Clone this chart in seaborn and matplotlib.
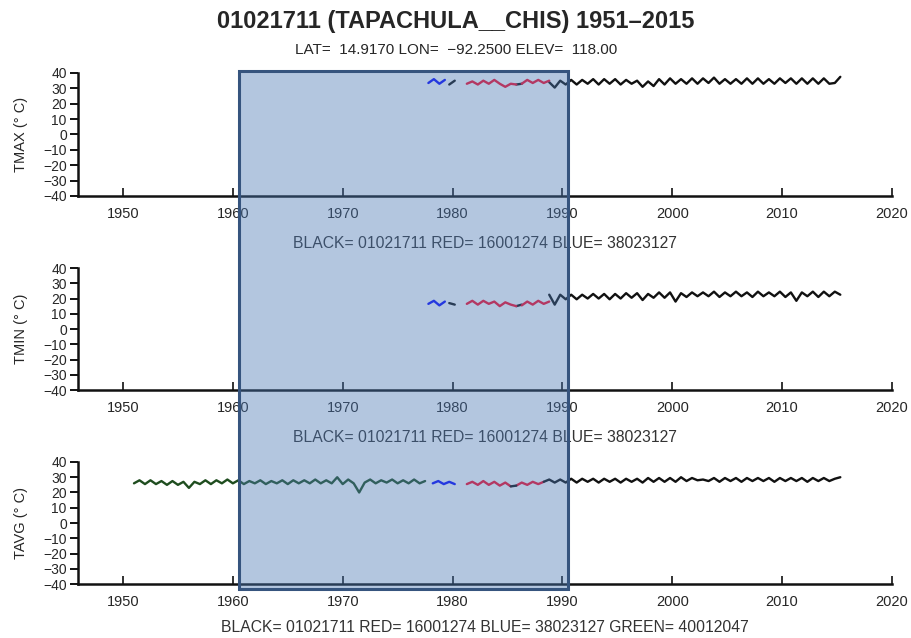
# GHCN-style station plot: TAPACHULA (CHIS) monthly temperatures
import pandas as pd
import matplotlib.pyplot as plt
import matplotlib.transforms as mtransforms
from matplotlib.patches import Rectangle
import seaborn as sns

sns.set_theme(style='ticks')
plt.rcParams['font.family'] = ['Liberation Sans', 'DejaVu Sans']

# ---- data (semi-annual peaks / troughs) ----
STEP = 0.5
ELEMENTS = ['TMAX', 'TMIN', 'TAVG']
SOURCE_COLORS = {'black': '#111111', 'red': '#ff0a28', 'blue': '#0a0aff', 'green': '#1f4d1f'}
CAPTION_3 = 'BLACK= 01021711 RED= 16001274 BLUE= 38023127'
CAPTION_4 = 'BLACK= 01021711 RED= 16001274 BLUE= 38023127 GREEN= 40012047'
SHADE_START, SHADE_END = 1960.6, 1990.5
X_TICKS = [1950, 1960, 1970, 1980, 1990, 2000, 2010, 2020]
Y_TICKS = [-40, -30, -20, -10, 0, 10, 20, 30, 40]

# TMAX
tmax_blue = [33.5, 36.0, 33.0, 35.5]                       # from 1977.8
tmax_dark1 = [32.5, 35.0]                                   # from 1979.7
tmax_red1 = [33.0, 34.5, 32.5, 35.0, 33.0, 35.5, 33.0, 31.0, 33.0, 32.5]  # from 1981.3
tmax_dark2 = [32.5, 33.0]                                   # from 1985.8
tmax_red2 = [33.0, 35.5, 33.5, 35.5, 33.5, 35.0]            # from 1986.3
tmax_black = [34.0, 30.5, 35.0, 32.5, 35.5, 32.5, 35.5, 33.0, 36.0, 32.5,
              36.0, 33.0, 36.0, 32.5, 35.5, 33.0, 35.0, 31.0, 34.5, 31.5,
              36.0, 32.5, 36.5, 33.0, 36.0, 33.0, 36.5, 33.0, 36.5, 33.5,
              37.0, 33.0, 36.0, 33.0, 36.0, 33.0, 36.5, 33.0, 36.5, 33.0,
              36.0, 33.0, 36.5, 33.5, 36.5, 33.0, 36.5, 33.0, 36.5, 33.0,
              36.5, 33.0, 33.5, 37.5]                        # from 1988.8

# TMIN
tmin_blue = [16.5, 18.5, 15.5, 18.0]
tmin_dark1 = [17.0, 16.0]
tmin_red1 = [16.5, 18.5, 16.0, 18.5, 16.5, 18.0, 15.0, 17.5, 16.0, 15.0]
tmin_dark2 = [15.0, 16.0]
tmin_red2 = [15.5, 18.0, 16.0, 18.5, 16.5, 18.0]
tmin_black = [22.5, 16.0, 22.5, 19.5, 22.5, 19.5, 22.5, 20.0, 23.0, 20.0,
              23.0, 19.5, 23.0, 20.0, 23.5, 20.5, 23.5, 19.0, 23.0, 20.5,
              24.0, 20.5, 24.0, 18.0, 23.5, 21.0, 24.0, 21.5, 24.0, 21.5,
              24.5, 21.0, 24.0, 21.5, 24.5, 21.5, 24.0, 21.0, 24.5, 21.5,
              24.0, 21.5, 24.5, 21.0, 24.0, 18.5, 24.0, 21.5, 24.5, 21.0,
              24.5, 21.5, 24.5, 22.5]

# TAVG
tavg_green = [26.0, 28.0, 25.5, 28.0, 25.5, 27.5, 25.0, 27.5, 25.0, 27.0,
              23.0, 27.0, 25.5, 28.0, 25.5, 28.0, 26.0, 28.5, 26.0, 28.0,
              25.5, 27.5, 26.0, 28.0, 25.5, 27.5, 26.0, 28.0, 25.5, 28.0,
              26.0, 28.0, 26.0, 28.5, 26.0, 28.0, 26.0, 30.0, 25.5, 28.5,
              26.0, 20.0, 26.5, 28.5, 26.0, 28.0, 26.5, 28.5, 26.0, 28.0,
              26.0, 28.5, 26.0, 27.5]                        # from 1951.0
tavg_blue = [26.0, 27.5, 25.5, 27.0, 25.5]                   # from 1978.2
tavg_red1 = [25.5, 27.0, 25.0, 27.5, 25.0, 27.0, 24.5, 26.5, 24.0]  # from 1981.3
tavg_dark = [24.0, 24.5]                                     # from 1985.3
tavg_red2 = [24.5, 26.5, 25.0, 27.0, 25.5, 27.0]             # from 1985.8
tavg_black = [27.0, 28.5, 26.5, 28.5, 26.5, 29.0, 26.5, 29.0, 27.0, 29.0,
              26.5, 29.0, 27.0, 29.0, 26.5, 29.0, 27.0, 29.0, 26.5, 29.5,
              27.0, 29.5, 27.0, 29.5, 27.0, 30.0, 27.5, 29.5, 28.0, 28.5,
              27.5, 29.5, 27.0, 29.5, 27.5, 29.5, 27.0, 29.5, 27.5, 29.5,
              27.5, 29.5, 27.0, 29.5, 27.5, 29.5, 27.5, 29.5, 27.0, 29.5,
              27.5, 29.5, 27.5, 29.0, 30.0]                  # from 1988.3

# (element, source, start year, values)
segments = [
    ('TMAX', 'blue', 1977.8, tmax_blue), ('TMAX', 'black', 1979.7, tmax_dark1),
    ('TMAX', 'red', 1981.3, tmax_red1), ('TMAX', 'black', 1985.8, tmax_dark2),
    ('TMAX', 'red', 1986.3, tmax_red2), ('TMAX', 'black', 1988.8, tmax_black),
    ('TMIN', 'blue', 1977.8, tmin_blue), ('TMIN', 'black', 1979.7, tmin_dark1),
    ('TMIN', 'red', 1981.3, tmin_red1), ('TMIN', 'black', 1985.8, tmin_dark2),
    ('TMIN', 'red', 1986.3, tmin_red2), ('TMIN', 'black', 1988.8, tmin_black),
    ('TAVG', 'green', 1951.0, tavg_green), ('TAVG', 'blue', 1978.2, tavg_blue),
    ('TAVG', 'red', 1981.3, tavg_red1), ('TAVG', 'black', 1985.3, tavg_dark),
    ('TAVG', 'red', 1985.8, tavg_red2), ('TAVG', 'black', 1988.3, tavg_black),
]

rows = []
for seg_id, (elem, src, start, vals) in enumerate(segments):
    for i, v in enumerate(vals):
        rows.append({'element': elem, 'source': src, 'segment': seg_id,
                     'year': start + STEP * i, 'value': v})
df = pd.DataFrame(rows)

# ---- figure ----
fig = plt.figure(figsize=(9.12, 6.38), dpi=100)
left, width = 0.0855, 0.8925
panel_boxes = [(0.6928, 0.1928), (0.3887, 0.1912), (0.0846, 0.1913)]
caption_y = [0.619, 0.315, 0.0157]
captions = [CAPTION_3, CAPTION_3, CAPTION_4]

axes = []
for elem, (bottom, height), cy, cap in zip(ELEMENTS, panel_boxes, caption_y, captions):
    ax = fig.add_axes([left, bottom, width, height])
    sub = df[df['element'] == elem]
    sns.lineplot(data=sub, x='year', y='value', hue='source', units='segment',
                 estimator=None, palette=SOURCE_COLORS, legend=False,
                 linewidth=1.7, ax=ax)
    ax.set_xlim(1945.9, 2020)
    ax.set_ylim(-40, 40)
    ax.set_xticks(X_TICKS)
    ax.set_yticks(Y_TICKS)
    ax.set_xlabel('')
    ax.set_ylabel(f'{elem} (° C)', fontsize=10.5, labelpad=11)
    for s in ['top', 'right']:
        ax.spines[s].set_visible(False)
    for s in ['left', 'bottom']:
        ax.spines[s].set_linewidth(1.8)
        ax.spines[s].set_color('#111111')
    ax.tick_params(axis='y', direction='out', length=6, width=1.4,
                   labelsize=10, pad=2, color='#111111')
    ax.tick_params(axis='x', direction='in', length=6, width=1.2,
                   labelsize=10.5, pad=8, color='#111111')
    ax.set_facecolor('white')
    fig.text(left + width / 2, cy, cap, ha='center', va='center',
             fontsize=11.3, color='#333333')
    axes.append(ax)

# highlighted base period spanning all three panels
trans = mtransforms.blended_transform_factory(axes[0].transData, fig.transFigure)
rect = Rectangle((SHADE_START, 0.0768), SHADE_END - SHADE_START, 0.8887 - 0.0768,
                 transform=trans, facecolor=(0.29, 0.47, 0.71, 0.42),
                 edgecolor='#36547e', linewidth=2.2, zorder=10)
fig.add_artist(rect)

fig.text(0.5, 0.967, '01021711 (TAPACHULA__CHIS) 1951–2015', ha='center',
         va='center', fontsize=17, fontweight='bold')
fig.text(0.5, 0.9216, 'LAT=  14.9170 LON=  −92.2500 ELEV=  118.00',
         ha='center', va='center', fontsize=11)

fig.savefig('out.png', dpi=100)
